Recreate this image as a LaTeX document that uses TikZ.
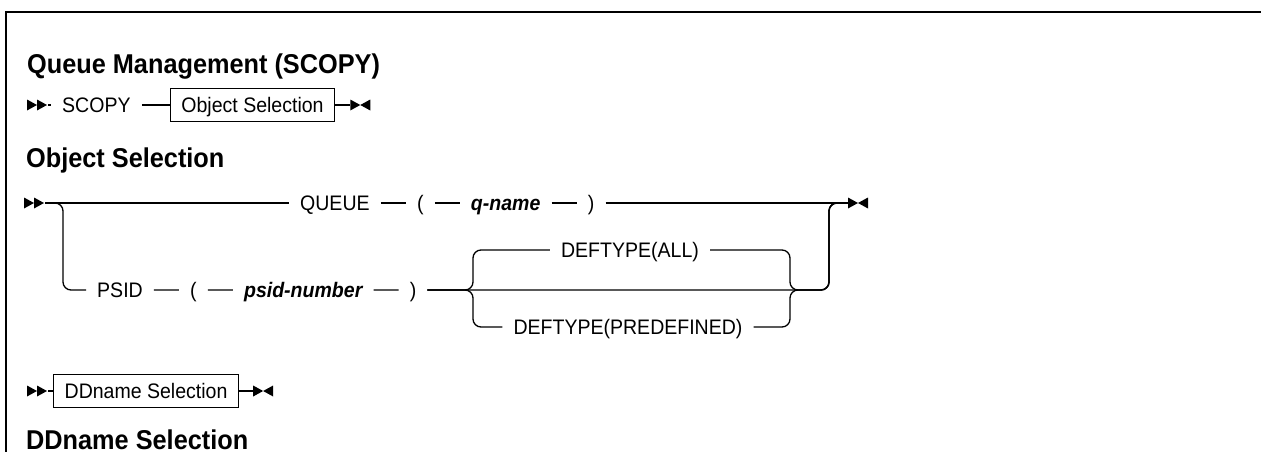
\documentclass[tikz,border=0pt]{standalone}
\usepackage{fontspec}
\setmainfont{Liberation Sans}[FakeStretch=0.93]
\usetikzlibrary{positioning}

\begin{document}
\begin{tikzpicture}[
  x=1pt, y=-1pt,
  tok/.style={inner xsep=11pt, inner ysep=0pt, text height=15pt, text depth=0pt,
              font=\fontsize{21}{25}\selectfont},
  var/.style={tok, font=\fontsize{21}{25}\selectfont\bfseries\itshape},
  box/.style={tok, draw, line width=1.3pt, minimum height=33pt},
  heading/.style={inner sep=0pt, anchor=base west, text depth=0pt,
                  font=\fontsize{27.2}{32}\selectfont\bfseries},
  rail/.style={line width=1.3pt, rounded corners=8pt},
  startmark/.pic={\fill (-21,-5.5) -- (-11,0) -- (-21,5.5) -- cycle;
                  \fill (-11,-5.5) -- (-1,0) -- (-11,5.5) -- cycle;},
  endmark/.pic={\fill (0,-5.5) -- (10,0) -- (0,5.5) -- cycle;
                \fill (20,-5.5) -- (10,0) -- (20,5.5) -- cycle;},
  node distance=25pt
]
  \useasboundingbox (0,0) rectangle (1261,452);
  \draw[line width=2.5pt] (6,452) |- (1261,12);

  % headings
  \node[heading] (title)   at (27,74)  {Queue Management (SCOPY)};
  \node[heading] (objhead) at (26,167) {Object Selection};
  \node[heading] (ddhead)  at (26,449) {DDname Selection};

  % SCOPY
  \coordinate (b1) at (48,105);
  \node[tok, anchor=west]   (scopy)  at (51,105) {SCOPY};
  \node[box, right=28pt of scopy] (objsel) {Object Selection};
  \coordinate[right=15pt of objsel] (e1);
  \pic at (b1) {startmark};
  \pic at (e1) {endmark};
  \draw[rail] (b1) -- (scopy) -- (objsel) -- (e1);

  % object selection
  \coordinate (b2) at (45,203);
  \coordinate (e2) at (848,203);
  \node[tok, anchor=west] (queue) at (289,203) {QUEUE};
  \node[tok, right=of queue] (lp1)   {(};
  \node[var, right=of lp1]   (qname) {q-name};
  \node[tok, right=of qname] (rp1)   {)};
  \node[tok, anchor=west] (psid) at (86,290) {PSID};
  \node[tok, right=of psid]    (lp2)     {(};
  \node[var, right=of lp2]     (psidnum) {psid-number};
  \node[tok, right=of psidnum] (rp2)     {)};
  \node[tok] (all)    at (630,250) {DEFTYPE(ALL)};
  \node[tok] (predef) at (628,327) {DEFTYPE(PREDEFINED)};
  \coordinate (fork)  at (63,203);
  \coordinate (split) at (473,290);
  \coordinate (merge) at (790,290);
  \coordinate (join)  at (829,290);
  \pic at (b2) {startmark};
  \pic at (e2) {endmark};

  \draw[rail] (b2) -- (queue) -- (lp1) -- (qname) -- (rp1) -- (e2);
  \draw[rail] (b2) -- (fork) |- (psid);
  \draw[rail] (psid) -- (lp2) -- (psidnum) -- (rp2) -- (join) |- (e2);
  \draw[rail] (rp2) -- (split) |- (all);
  \draw[rail] (rp2) -- (split) |- (predef);
  \draw[rail] (all) -| (merge) -- (join) |- (e2);
  \draw[rail] (predef) -| (merge) -- (join) |- (e2);

  % DDname selection
  \coordinate (b3) at (48,391);
  \node[box, right=5pt of b3] (ddsel) {DDname Selection};
  \coordinate[right=14pt of ddsel] (e3);
  \pic at (b3) {startmark};
  \pic at (e3) {endmark};
  \draw[rail] (b3) -- (ddsel) -- (e3);
\end{tikzpicture}
\end{document}
